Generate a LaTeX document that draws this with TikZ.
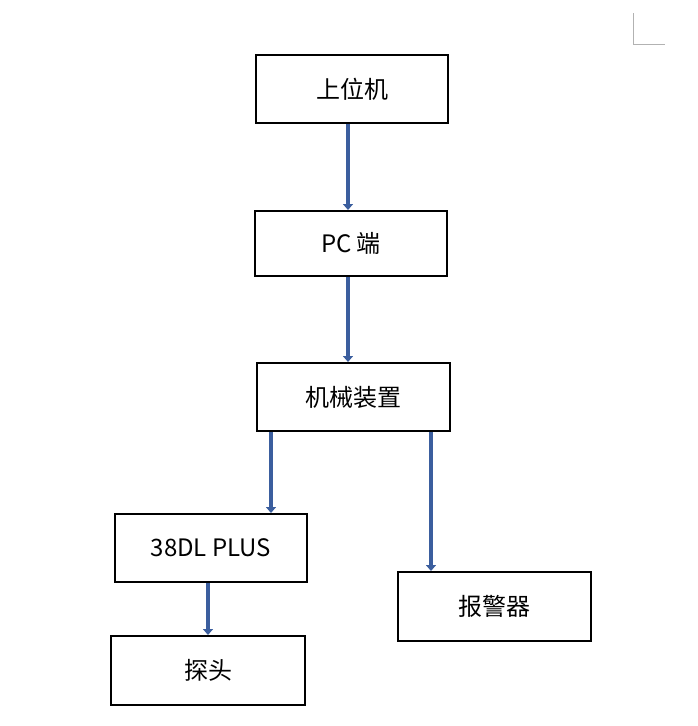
\documentclass[tikz,border=0pt]{standalone}
\usepackage{fontspec}
\setmainfont{Noto Sans CJK SC}
\usetikzlibrary{arrows.meta}
\definecolor{arrblue}{HTML}{3B5E9E}
\tikzset{
  box/.style={draw=black, line width=2pt, minimum width=#1, inner sep=0pt, font=\fontsize{24}{26}\selectfont},
  link/.style={draw=arrblue, line width=4.5pt, -{Triangle[length=6pt,width=10pt]}},
}
\begin{document}
\begin{tikzpicture}[x=1pt,y=-1pt]
\useasboundingbox (0,0) rectangle (698,726);
\draw[gray!60, line width=1pt] (633,13) -- (633,44) -- (665,44);
\node[box=192pt, minimum height=68pt] (a) at (352,89) {上位机};
\node[box=192pt, minimum height=65pt] (b) at (351,243.5) {PC 端};
\node[box=193pt, minimum height=68pt] (c) at (353.5,397) {机械装置};
\node[box=192pt, minimum height=68pt] (d) at (211,548) {38DL PLUS};
\node[box=194pt, minimum height=69pt] (e) at (208,670.5) {探头};
\node[box=193pt, minimum height=69pt] (f) at (494.5,606.5) {报警器};
\draw[link] (a.south -| 348,0) -- (b.north -| 348,0);
\draw[link] (b.south -| 348,0) -- (c.north -| 348,0);
\draw[link] (c.south -| 271,0) -- (d.north -| 271,0);
\draw[link] (c.south -| 431,0) -- (f.north -| 431,0);
\draw[link] (d.south -| 208,0) -- (e.north -| 208,0);
\end{tikzpicture}
\end{document}
